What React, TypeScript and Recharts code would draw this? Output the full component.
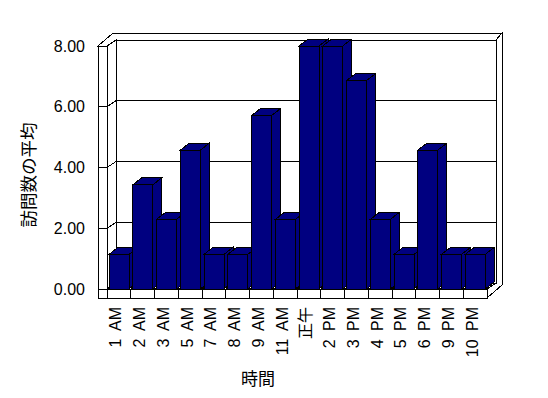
import React from 'react';
import { BarChart, Bar, XAxis, YAxis, CartesianGrid, Label } from 'recharts';

const hours = ['1 AM', '2 AM', '3 AM', '5 AM', '7 AM', '8 AM', '9 AM', '11 AM', '正午', '2 PM', '3 PM', '4 PM', '5 PM', '6 PM', '9 PM', '10 PM'];
const avgVisits = [1.14, 3.43, 2.29, 4.57, 1.14, 1.14, 5.71, 2.29, 8.0, 8.0, 6.86, 2.29, 1.14, 4.57, 1.14, 1.14];
const yTicks = [0, 2, 4, 6, 8];

const data = hours.map((hour, i) => ({ hour, value: avgVisits[i] }));

const NAVY = '#000080';
// oblique depth of the chart box, back wall thickness, wall / floor slab thickness
const DX = 9, DY = -6;
const TX = 6, TY = -7;
const WALL = 9;
const BAR_DX = 9, BAR_DY = -7;
const FONT = "'Liberation Sans', Arial, sans-serif";
const JP_FONT = "'Noto Sans CJK JP', sans-serif";

const pts = (arr: number[][]) => arr.map((p) => p.join(',')).join(' ');

const Frame = ({ L, R, T, B, n }: { L: number; R: number; T: number; B: number; n: number }) => {
    const s = { stroke: '#000', strokeWidth: 1, fill: '#fff' };
    const band = (R - L) / n;
    const bounds = Array.from({ length: n - 1 }, (_, i) => L + (i + 1) * band);
    return (
        <g shapeRendering="crispEdges">
            {/* top of walls */}
            <polygon points={pts([[L - WALL, T], [L - WALL + DX + TX, T + DY + TY], [R + DX + TX, T + DY + TY], [R + DX, T + DY], [L + DX, T + DY], [L, T]])} {...s} />
            {/* right edge of back wall and floor */}
            <polygon points={pts([[R + DX, T + DY], [R + DX + TX, T + DY + TY], [R + DX + TX, B + WALL + DY + TY], [R, B + WALL], [R, B], [R + DX, B + DY]])} {...s} />
            {/* back wall */}
            <rect x={L + DX} y={T + DY} width={R - L} height={B - T} {...s} />
            {/* left wall, inner side */}
            <polygon points={pts([[L, T], [L + DX, T + DY], [L + DX, B + DY], [L, B]])} {...s} />
            {/* floor */}
            <polygon points={pts([[L, B], [L + DX, B + DY], [R + DX, B + DY], [R, B]])} {...s} />
            {/* left wall front edge */}
            <rect x={L - WALL} y={T} width={WALL} height={B + WALL - T} {...s} />
            {/* floor front edge */}
            <rect x={L} y={B} width={R - L} height={WALL} {...s} />
            {bounds.map((bx, i) => (
                <g key={i} stroke="#000">
                    <line x1={bx} y1={B} x2={bx} y2={B + WALL} />
                    <line x1={bx} y1={B} x2={bx + DX} y2={B + DY} />
                </g>
            ))}
        </g>
    );
};

const GridLine = (props: any) => {
    const { x, y, width, height, y1, index } = props;
    const L = x, R = x + width, T = y, B = y + height;
    return (
        <g key={`grid-${index}`} shapeRendering="crispEdges" stroke="#000" strokeWidth={1}>
            {index === 0 && <Frame L={L} R={R} T={T} B={B} n={data.length} />}
            <line x1={L + DX} y1={y1 + DY} x2={R + DX} y2={y1 + DY} />
            <line x1={L} y1={y1} x2={L + DX} y2={y1 + DY} />
            <line x1={L - WALL} y1={y1} x2={L} y2={y1} />
        </g>
    );
};

const Bar3D = (props: any) => {
    const { x, y, width, height } = props;
    if (height == null || width == null) return null;
    const x2 = x + width;
    const y2 = y + height;
    return (
        <g stroke="#000" strokeWidth={1} fill={NAVY} shapeRendering="crispEdges">
            <polygon points={pts([[x, y], [x + BAR_DX, y + BAR_DY], [x2 + BAR_DX, y + BAR_DY], [x2, y]])} />
            <polygon points={pts([[x2, y], [x2 + BAR_DX, y + BAR_DY], [x2 + BAR_DX, y2 + BAR_DY], [x2, y2]])} />
            <rect x={x} y={y} width={width} height={height} />
        </g>
    );
};

const HourTick = (props: any) => {
    const { x, y, payload } = props;
    const tx = x - 3;
    const ty = y + 18;
    return (
        <text
            x={tx}
            y={ty}
            transform={`rotate(-90, ${tx}, ${ty})`}
            textAnchor="end"
            dominantBaseline="central"
            fontSize={16}
            wordSpacing={4}
            fontFamily={`'Liberation Sans', Arial, ${JP_FONT}`}
            fill="#000"
        >
            {payload.value}
        </text>
    );
};

const App: React.FC = () => {
    return (
        <div style={{ width: 548, height: 398, background: '#fff' }}>
            <style>{'body { margin: 0; }'}</style>
            <BarChart
                width={548}
                height={398}
                data={data}
                margin={{ top: 46, right: 61, left: 47, bottom: 49 }}
                barCategoryGap={2}
            >
                <CartesianGrid horizontal={GridLine} vertical={false} />
                <XAxis
                    dataKey="hour"
                    interval={0}
                    height={60}
                    axisLine={false}
                    tickLine={false}
                    tickSize={0}
                    tickMargin={0}
                    tick={<HourTick />}
                >
                    <Label
                        content={() => (
                            <text x={258} y={377} textAnchor="middle" dominantBaseline="central" fontSize={17} fontFamily={JP_FONT} fill="#000">
                                時間
                            </text>
                        )}
                    />
                </XAxis>
                <YAxis
                    domain={[0, 8]}
                    ticks={yTicks}
                    width={60}
                    axisLine={false}
                    tickLine={false}
                    tickSize={0}
                    tickMargin={22}
                    tickFormatter={(v: number) => v.toFixed(2)}
                    tick={{ fontSize: 16, fill: '#000', fontFamily: FONT }}
                >
                    <Label
                        content={() => (
                            <text
                                x={27}
                                y={175}
                                transform="rotate(-90, 27, 175)"
                                textAnchor="middle"
                                dominantBaseline="central"
                                fontSize={17.5}
                                fontFamily={JP_FONT}
                                fill="#000"
                            >
                                訪問数の平均
                            </text>
                        )}
                    />
                </YAxis>
                <Bar dataKey="value" shape={<Bar3D />} isAnimationActive={false} />
            </BarChart>
        </div>
    );
};

export default App;
